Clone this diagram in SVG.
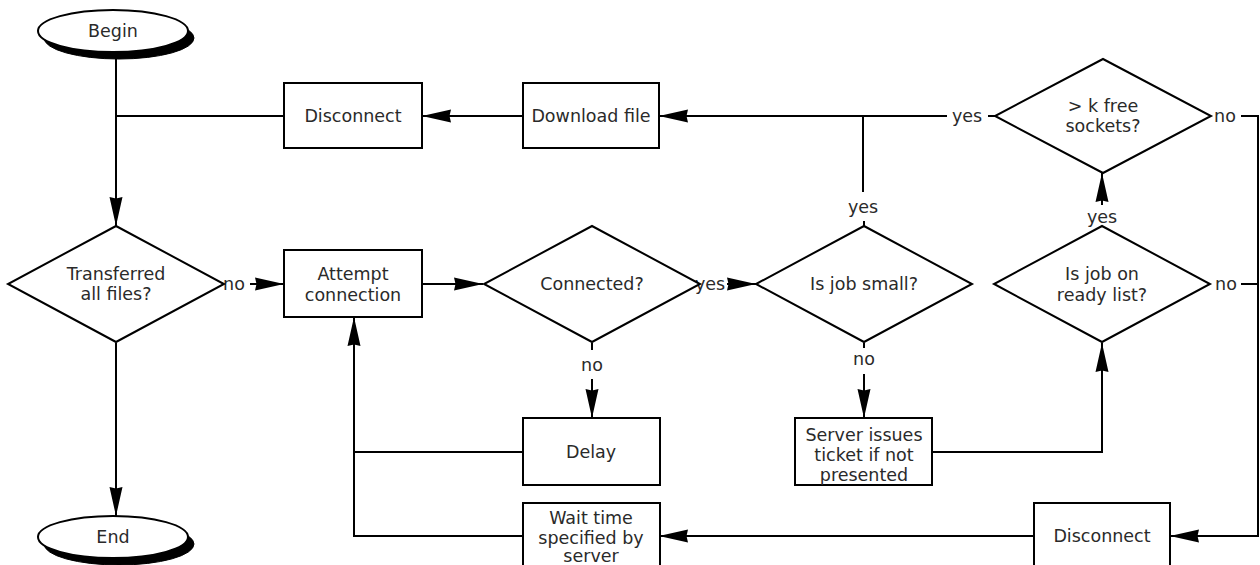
<svg xmlns="http://www.w3.org/2000/svg" width="1260" height="565" viewBox="0 0 1260 565">
<style>
.box{fill:#fff;stroke:#000;stroke-width:2}
.sh{fill:#000;stroke:#000;stroke-width:1}
.ln{fill:none;stroke:#000;stroke-width:2}
text{font-family:"DejaVu Sans","Liberation Sans",sans-serif;font-size:17.5px;fill:#2a2a2a;text-anchor:middle}
</style>
<defs>
<marker id="ah" markerUnits="userSpaceOnUse" markerWidth="32" markerHeight="16" refX="29" refY="7" orient="auto">
<path d="M0,0.5 L29,7 L0,13.5 L1.5,7 z" fill="#000"/>
</marker>
</defs>
<rect width="1260" height="565" fill="#fff"/>
<g id="connectors">
<path class="ln" d="M116,52 V226" marker-end="url(#ah)"/>
<path class="ln" d="M284,116 H116"/>
<path class="ln" d="M523,116 H422" marker-end="url(#ah)"/>
<path class="ln" d="M947,116 H659" marker-end="url(#ah)"/>
<path class="ln" d="M988,116 H995"/>
<path class="ln" d="M864,226 V221"/>
<path class="ln" d="M863,192 V116"/>
<path class="ln" d="M250,284 H284" marker-end="url(#ah)"/>
<path class="ln" d="M422,284 H483" marker-end="url(#ah)"/>
<path class="ln" d="M727,284 H756" marker-end="url(#ah)"/>
<path class="ln" d="M592,343 V350"/>
<path class="ln" d="M592,379 V418" marker-end="url(#ah)"/>
<path class="ln" d="M864,343 V348"/>
<path class="ln" d="M864,374 V418" marker-end="url(#ah)"/>
<path class="ln" d="M932,452 H1102 V343" marker-end="url(#ah)"/>
<path class="ln" d="M1102,205 V173" marker-end="url(#ah)"/>
<path class="ln" d="M1241,284 H1258"/>
<path class="ln" d="M1241,116 H1258 V536 H1170" marker-end="url(#ah)"/>
<path class="ln" d="M1034,536 H659" marker-end="url(#ah)"/>
<path class="ln" d="M523,452 H354 V317" marker-end="url(#ah)"/>
<path class="ln" d="M523,536 H354 V452"/>
<path class="ln" d="M116,343 V516" marker-end="url(#ah)"/>
<text x="967" y="122">yes</text>
<text x="863" y="213">yes</text>
<text x="234" y="290">no</text>
<text x="710" y="290">yes</text>
<text x="592" y="371">no</text>
<text x="864" y="365">no</text>
<text x="1102" y="223">yes</text>
<text x="1226" y="290">no</text>
<text x="1225" y="122">no</text>
</g>
<g id="begin">
<ellipse class="sh" cx="119" cy="38" rx="75" ry="21"/>
<ellipse class="box" cx="113" cy="31" rx="75" ry="21" stroke-width="1.5"/>
<text x="113" y="37">Begin</text>
</g>
<g id="end">
<ellipse class="sh" cx="119" cy="544" rx="75" ry="21"/>
<ellipse class="box" cx="113" cy="537" rx="75" ry="21" stroke-width="1.5"/>
<text x="113" y="543">End</text>
</g>
<g id="disconnect1">
<rect class="box" x="284" y="83" width="138" height="65"/>
<text x="353" y="122">Disconnect</text>
</g>
<g id="download">
<rect class="box" x="523" y="83" width="136" height="65"/>
<text x="591" y="122">Download file</text>
</g>
<g id="sockets">
<polygon class="box" points="1103,59 1211,116 1103,173 995,116"/>
<text x="1103" y="112">&gt; k free</text>
<text x="1103" y="132">sockets?</text>
</g>
<g id="transferred">
<polygon class="box" points="116,226 224,284 116,342 8,284"/>
<text x="116" y="280">Transferred</text>
<text x="116" y="300">all files?</text>
</g>
<g id="attempt">
<rect class="box" x="284" y="250" width="138" height="67"/>
<text x="353" y="280">Attempt</text>
<text x="353" y="301">connection</text>
</g>
<g id="connected">
<polygon class="box" points="592,226 700,284 592,342 484,284"/>
<text x="592" y="290">Connected?</text>
</g>
<g id="jobsmall">
<polygon class="box" points="864,226 972,284 864,342 756,284"/>
<text x="864" y="290">Is job small?</text>
</g>
<g id="readylist">
<polygon class="box" points="1102,226 1210,284 1102,342 994,284"/>
<text x="1102" y="280">Is job on</text>
<text x="1102" y="301">ready list?</text>
</g>
<g id="delay">
<rect class="box" x="523" y="418" width="137" height="67"/>
<text x="591" y="458">Delay</text>
</g>
<g id="server">
<rect class="box" x="795" y="418" width="137" height="67"/>
<text x="864" y="441">Server issues</text>
<text x="864" y="461">ticket if not</text>
<text x="864" y="481">presented</text>
</g>
<g id="wait">
<rect class="box" x="523" y="503" width="137" height="70"/>
<text x="591" y="524">Wait time</text>
<text x="591" y="544">specified by</text>
<text x="591" y="562">server</text>
</g>
<g id="disconnect2">
<rect class="box" x="1034" y="503" width="136" height="70"/>
<text x="1102" y="542">Disconnect</text>
</g>
</svg>
